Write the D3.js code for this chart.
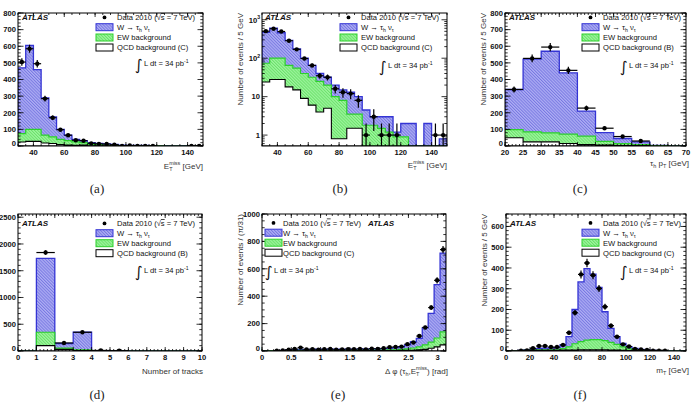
<!DOCTYPE html>
<html><head><meta charset="utf-8">
<script src="https://cdn.jsdelivr.net/npm/d3@7"></script>
<style>body{margin:0;background:#fff} svg{display:block}</style>
</head><body>
<svg id="c" width="698" height="405"></svg>
<script>
// ---------------- DATA ----------------
// (a),(b)  E_T^miss, 5 GeV bins from 30 to 150
const metLo   = [30,35,40,45,50,55,60,65,70,75,80,85,90,95,100,105,110,115,120,125,130,135,140,145];
const metW    = [396,505,360,225,120,60,33,15,12,10,7,9.5,6.5,2.7,1.2,1.5,1.8,0.3,1.1,2,0,2,0,0.8];
const metEW   = [50,72,72,47,40,31,26,21,15,9.2,7.2,2,2,1.8,1.8,1.5,1.2,0.9,0.9,0,0,0,0,0];
const metQCD  = [24,28,28,18,15,9,6,4,5,0.8,0.8,1.5,1.5,0,0,0,0,0,0,0,0,0,0,0];
const metData = [505,585,495,285,170,98,65,35,32,16,13,12,8,1,3,1,1,1,0,0,0,0,1,1];
// (c) tau pT
const ptLo   = [20,25,30,35,40,45,50,55,60,65];
const ptW    = [241,437,491,369,151,53,31,17,1,0];
const ptEW   = [49,60,54,56,51,23,11,6,2,0];
const ptQCD  = [50,25,25,15,8,5,3,2,0,0];
const ptData = [340,527,595,455,228,107,57,30,0,0];
// (d) number of tracks
const trkLo   = [0,1,2,3,4,5,6,7,8,9];
const trkW    = [0,1380,85,330,5,0,0,0,0,0];
const trkEW   = [0,250,25,12,0,0,0,0,0,0];
const trkQCD  = [0,100,30,10,0,0,0,0,0,0];
const trkData = [0,1840,150,350,10,5,0,0,0,0];
// (e) delta phi, 31 bins of pi/31
const dphiW    = [0,0,1,2,5,7,8,8,8,9,8,8,8,7,8,9,8,9,9,10,11,12,15,19,29,46,62,124,209,389,575];
const dphiEW   = [0,1,0,1,1,1,2,2,2,2,2,3,3,3,3,3,3,3,3,4,4,4,5,7,10,16,22,33,45,65,95];
const dphiQCD  = [0,0,1,1,2,2,2,2,2,2,2,2,2,2,2,2,3,3,3,3,3,4,4,5,5,6,8,12,20,30,45];
const dphiData = [0,0,2,4,10,15,25,12,14,10,13,15,10,12,14,13,15,12,17,15,20,28,30,32,50,62,109,172,317,516,740];
// (f) m_T, 5 GeV bins from 0 to 150
const mtLo   = [0,5,10,15,20,25,30,35,40,45,50,55,60,65,70,75,80,85,90,95,100,105,110,115,120,125,130,135,140,145];
const mtW    = [0,1,1,2,4,7,9,10,10,17,49,165,288,345,315,251,139,67,37,17,11,7,5,3,2,1,1,1,0,0];
const mtEW   = [0,0,1,1,2,2,2,2,3,8,15,30,39,46,49,49,44,37,28,17,8,4,2,1,0,1,0,0,0,0];
const mtQCD  = [1,1,1,2,2,3,3,3,3,4,5,5,6,6,6,6,6,5,4,3,2,2,1,1,1,0,0,0,0,0];
const mtData = [0,0,2,3,13,24,24,19,19,29,88,184,369,424,365,301,213,122,69,32,22,10,7,5,2,1,1,0,0,0];

// ---------------- DRAWING ----------------
const svg = d3.select('#c');
const defs = svg.append('defs');
const SANS = 'Liberation Sans, Arial, Helvetica, sans-serif';
function hatch(id,bg,fg){
  const p=defs.append('pattern').attr('id',id).attr('patternUnits','userSpaceOnUse')
    .attr('width',2.2).attr('height',2.2).attr('patternTransform','rotate(-45)');
  p.append('rect').attr('width',2.2).attr('height',2.2).attr('fill',bg);
  p.append('line').attr('x1',0.5).attr('y1',0).attr('x2',0.5).attr('y2',2.2).attr('stroke',fg).attr('stroke-width',0.9);
}
hatch('hb','#aeaef4','#7474e0');
hatch('hg','#9ef59e','#66e066');

function rich(sel, segs, fs){
  let cur=0;
  segs.forEach(s=>{
    const off = s.s==='sub'? fs*0.3 : s.s==='sup'? -fs*0.45 : 0;
    const t = sel.append('tspan').text(s.t).attr('dy', off-cur);
    if(s.s) t.attr('font-size', fs*0.68);
    if(s.dx) t.attr('dx', s.dx);
    if(s.o) t.style('text-decoration','overline');
    cur=off;
  });
}
const metSegs = fs => [{t:'E'},{t:'T',s:'sub'},{t:'miss',s:'sup',dx:-fs*0.42},{t:' [GeV]'}];

let clipId=0;
function panel(c){
  const g = svg.append('g');
  const x = d3.scaleLinear().domain(c.xd).range([c.L,c.R]);
  const y = (c.log? d3.scaleLog(): d3.scaleLinear()).domain(c.yd).range([c.B,c.T]);
  const ymin = c.yd[0];
  const yv = v => y(Math.max(v, ymin));
  const rows = c.lo.map((lo,i)=>({lo, hi: lo+c.bw, qcd:c.qcd[i], ew:c.ew[i], w:c.w[i]}));
  const st = d3.stack().keys(['qcd','ew','w'])(rows);
  const cid = 'clip'+(clipId++);
  defs.append('clipPath').attr('id',cid).append('rect')
    .attr('x',c.L).attr('y',c.T).attr('width',c.R-c.L).attr('height',c.B-c.T);
  const hg = g.append('g').attr('clip-path',`url(#${cid})`);
  const layers = [{k:2, fill:'url(#hb)', stroke:'#3434d4', sw:1.3},
                  {k:1, fill:'url(#hg)', stroke:'#2cd02c', sw:1.2},
                  {k:0, fill:'#ffffff', stroke:'#000000', sw:1.1}];
  const line = d3.line();
  layers.forEach(Ly=>{
    const tops = st[Ly.k].map(d=>d[1]);
    const pts = [[x(rows[0].lo), c.B]];
    rows.forEach((r,i)=>{ pts.push([x(r.lo), yv(tops[i])]); pts.push([x(r.hi), yv(tops[i])]); });
    pts.push([x(rows[rows.length-1].hi), c.B]);
    hg.append('path').attr('d', line(pts)+'Z').attr('fill',Ly.fill)
      .attr('stroke',Ly.stroke).attr('stroke-width',Ly.sw).attr('stroke-linejoin','miter');
  });
  // data points
  const dg = hg.append('g');
  rows.forEach((r,i)=>{
    const d = c.data[i]; if(!(d>0)) return;
    const e = Math.sqrt(d), xm = x((r.lo+r.hi)/2);
    dg.append('line').attr('x1',xm).attr('x2',xm).attr('y1',yv(d-e)).attr('y2',y(d+e)).attr('stroke','#000').attr('stroke-width',1.2);
    dg.append('line').attr('x1',x(r.lo)).attr('x2',x(r.hi)).attr('y1',y(d)).attr('y2',y(d)).attr('stroke','#000').attr('stroke-width',1.2);
    dg.append('circle').attr('cx',xm).attr('cy',y(d)).attr('r',2.2).attr('fill','#000');
  });
  // frame
  g.append('rect').attr('x',c.L).attr('y',c.T).attr('width',c.R-c.L).attr('height',c.B-c.T)
    .attr('fill','none').attr('stroke','#000').attr('stroke-width',1);
  const tk = g.append('g').attr('stroke','#000').attr('stroke-width',0.8);
  const inX = v => v>=c.xd[0]-1e-9 && v<=c.xd[1]+1e-9;
  c.xMinor.filter(inX).forEach(v=>{ const xx=x(v);
    tk.append('line').attr('x1',xx).attr('x2',xx).attr('y1',c.B).attr('y2',c.B-2);
    tk.append('line').attr('x1',xx).attr('x2',xx).attr('y1',c.T).attr('y2',c.T+2); });
  c.xMajor.forEach(v=>{ const xx=x(v);
    tk.append('line').attr('x1',xx).attr('x2',xx).attr('y1',c.B).attr('y2',c.B-4);
    tk.append('line').attr('x1',xx).attr('x2',xx).attr('y1',c.T).attr('y2',c.T+4); });
  const inY = v => v>=c.yd[0] && v<=c.yd[1];
  c.yMinor.filter(inY).forEach(v=>{ const yy=y(v);
    tk.append('line').attr('x1',c.L).attr('x2',c.L+2.7).attr('y1',yy).attr('y2',yy);
    tk.append('line').attr('x1',c.R).attr('x2',c.R-2.7).attr('y1',yy).attr('y2',yy); });
  c.yMajor.forEach(v=>{ const yy=y(v);
    tk.append('line').attr('x1',c.L).attr('x2',c.L+5.5).attr('y1',yy).attr('y2',yy);
    tk.append('line').attr('x1',c.R).attr('x2',c.R-5.5).attr('y1',yy).attr('y2',yy); });
  // tick labels
  const fsT = 7.6;
  c.xMajor.forEach((v,i)=>{
    g.append('text').attr('x',x(v)).attr('y',c.B+8.5).attr('text-anchor','middle')
      .attr('font-family',SANS).attr('font-size',fsT).attr('font-weight','bold').attr('fill','#111')
      .text(c.xLab[i]);
  });
  c.yMajor.forEach((v,i)=>{
    const yy = y(v) + (i===0 && !c.log ? 0.3 : 2.8);
    const t = g.append('text').attr('x',c.L-2).attr('y',yy).attr('text-anchor','end')
      .attr('font-family',SANS).attr('font-size',fsT).attr('font-weight','bold').attr('fill','#111');
    const lab = c.yLab[i];
    if(Array.isArray(lab)) rich(t,[{t:lab[0]},{t:lab[1],s:'sup'}],fsT); else t.text(lab);
  });
  // axis titles
  const fsA = 8;
  const xt = g.append('text').attr('x',c.R+c.xtDx).attr('y',c.xtY).attr('text-anchor','end')
    .attr('font-family',SANS).attr('font-size',fsA).attr('fill','#333');
  rich(xt, c.xTitle, fsA);
  if(c.yTitle){
    g.append('text').attr('transform',`translate(${c.L-19},${c.T}) rotate(-90)`).attr('text-anchor','end')
      .attr('font-family',SANS).attr('font-size',fsA).attr('fill','#333').text(c.yTitle);
  }
  // ATLAS
  g.append('text').attr('x',c.atlas[0]).attr('y',c.atlas[1]).attr('font-family',SANS)
    .attr('font-size',8).attr('font-weight','bold').attr('font-style','italic').attr('fill','#111').text('ATLAS');
  // legend
  const fsL = 7.6;
  const lg = g.append('g').attr('font-family',SANS).attr('font-size',fsL).attr('fill','#111');
  const bx = c.leg[0], tx = c.leg[1], rowsY = c.leg[2];
  lg.append('circle').attr('cx',bx+8.5).attr('cy',rowsY[0]-2.6).attr('r',1.9).attr('fill','#000');
  const t0 = lg.append('text').attr('x',tx).attr('y',rowsY[0]);
  rich(t0,[{t:'Data 2010 ('},{t:'√'},{t:'s',o:true},{t:' = 7 TeV)'}],fsL);
  const boxes = [['url(#hb)','#3434d4'],['url(#hg)','#2cd02c'],['#fff','#000']];
  boxes.forEach((b,i)=>{
    lg.append('rect').attr('x',bx).attr('y',rowsY[i+1]-6.3).attr('width',17).attr('height',7)
      .attr('fill',b[0]).attr('stroke',b[1]).attr('stroke-width',1);
  });
  const t1 = lg.append('text').attr('x',tx).attr('y',rowsY[1]);
  rich(t1,[{t:'W → τ'},{t:'h',s:'sub'},{t:' ν'},{t:'τ',s:'sub'}],fsL);
  lg.append('text').attr('x',tx).attr('y',rowsY[2]).text('EW background');
  lg.append('text').attr('x',tx).attr('y',rowsY[3]).text('QCD background ('+c.qcdTag+')');
  // luminosity
  g.append('text').attr('x',c.lumi[0]-1).attr('y',c.lumi[1]+4).attr('font-family','DejaVu Sans, sans-serif')
    .attr('font-size',15).attr('fill','#111').text('∫');
  const lt = g.append('text').attr('x',c.lumi[0]+8).attr('y',c.lumi[1]).attr('font-family',SANS)
    .attr('font-size',fsL).attr('fill','#111');
  rich(lt,[{t:'L dt = 34 pb'},{t:'-1',s:'sup'}],fsL);
  // caption
  svg.append('text').attr('x',c.cap[0]).attr('y',c.cap[1]).attr('text-anchor','middle')
    .attr('font-family','Liberation Serif, Times New Roman, serif').attr('font-size',13).attr('fill','#222').text(c.cap[2]);
}

const rangeStep = (a,b,s) => d3.range(Math.round((b-a)/s)+1).map(i=>+(a+i*s).toFixed(6));
const metXMajor = [40,60,80,100,120,140];
const logMinor = [0.6,0.7,0.8,0.9,2,3,4,5,6,7,8,9,20,30,40,50,60,70,80,90,200,300,400,500,600,700,800,900];

// (a)
panel({L:18,R:203,T:13,B:146, xd:[30,150], yd:[0,800], lo:metLo, bw:5, w:metW, ew:metEW, qcd:metQCD, data:metData,
  xMajor:metXMajor, xLab:metXMajor.map(String), xMinor:rangeStep(30,150,5),
  yMajor:rangeStep(0,800,100), yLab:rangeStep(0,800,100).map(String), yMinor:rangeStep(0,800,20),
  xTitle:metSegs(8), xtDx:0, xtY:169, yTitle:null, atlas:[22,19.5],
  leg:[96,117,[20,30,40.3,50.3]], qcdTag:'C', lumi:[136,66], cap:[97,193,'(a)']});
// (b)
panel({L:262,R:447,T:13,B:146, log:true, xd:[30,150], yd:[0.52,1500], lo:metLo, bw:5, w:metW, ew:metEW, qcd:metQCD, data:metData,
  xMajor:metXMajor, xLab:metXMajor.map(String), xMinor:rangeStep(30,150,5),
  yMajor:[1,10,100,1000], yLab:['1','10',['10','2'],['10','3']], yMinor:logMinor,
  xTitle:metSegs(8), xtDx:0, xtY:168, yTitle:'Number of events / 5 GeV', atlas:[265,19.5],
  leg:[340,361,[20,30,40.3,50.3]], qcdTag:'C', lumi:[380,68], cap:[340,193,'(b)']});
// (c)
panel({L:505,R:686,T:13,B:146, xd:[20,70], yd:[0,800], lo:ptLo, bw:5, w:ptW, ew:ptEW, qcd:ptQCD, data:ptData,
  xMajor:rangeStep(20,70,5), xLab:rangeStep(20,70,5).map(String), xMinor:rangeStep(20,70,1),
  yMajor:rangeStep(0,800,100), yLab:rangeStep(0,800,100).map(String), yMinor:rangeStep(0,800,20),
  xTitle:[{t:'τ'},{t:'h',s:'sub'},{t:' p'},{t:'T',s:'sub'},{t:' [GeV]'}], xtDx:3, xtY:166, yTitle:'Number of events / 5 GeV', atlas:[509,19.5],
  leg:[582,603,[20,30,40.3,50.3]], qcdTag:'B', lumi:[621,68], cap:[580,193,'(c)']});
// (d)
panel({L:18,R:202,T:214,B:351, xd:[0,10], yd:[0,2560], lo:trkLo, bw:1, w:trkW, ew:trkEW, qcd:trkQCD, data:trkData,
  xMajor:rangeStep(0,10,1), xLab:rangeStep(0,10,1).map(String), xMinor:rangeStep(0,10,0.2),
  yMajor:rangeStep(0,2500,500), yLab:rangeStep(0,2500,500).map(String), yMinor:rangeStep(0,2500,100),
  xTitle:[{t:'Number of tracks'}], xtDx:1, xtY:374, yTitle:null, atlas:[22,225.5],
  leg:[96,117,[226,236,246,256]], qcdTag:'B', lumi:[136,273], cap:[97,399,'(d)']});
// (e)
const dphiBw = Math.PI/31;
const dphiLo = d3.range(31).map(k=>k*dphiBw);
panel({L:262,R:446,T:214,B:351, xd:[0,Math.PI], yd:[0,1000], lo:dphiLo, bw:dphiBw, w:dphiW, ew:dphiEW, qcd:dphiQCD, data:dphiData,
  xMajor:rangeStep(0,3,0.5), xLab:['0','0.5','1','1.5','2','2.5','3'], xMinor:rangeStep(0,3.1,0.1),
  yMajor:rangeStep(0,1000,200), yLab:rangeStep(0,1000,200).map(String), yMinor:rangeStep(0,1000,50),
  xTitle:[{t:'Δ φ (τ'},{t:'h',s:'sub'},{t:',E'},{t:'T',s:'sub'},{t:'miss',s:'sup',dx:-3.4},{t:') [rad]'}], xtDx:2, xtY:374,
  yTitle:'Number of events / (π/31)', atlas:[368,225.5],
  leg:[265,283,[225.5,235.5,245.5,255.5]], qcdTag:'C', lumi:[266,273], cap:[338,399,'(e)']});
// (f)
panel({L:506,R:686,T:214,B:351, xd:[0,150], yd:[0,660], lo:mtLo, bw:5, w:mtW, ew:mtEW, qcd:mtQCD, data:mtData,
  xMajor:rangeStep(0,140,20), xLab:rangeStep(0,140,20).map(String), xMinor:rangeStep(0,150,5),
  yMajor:rangeStep(0,600,100), yLab:rangeStep(0,600,100).map(String), yMinor:rangeStep(0,660,20),
  xTitle:[{t:'m'},{t:'T',s:'sub'},{t:' [GeV]'}], xtDx:3, xtY:373, yTitle:'Number of events / 5 GeV', atlas:[510,225.5],
  leg:[582,603,[225.5,235.5,245.5,255.5]], qcdTag:'C', lumi:[621,273], cap:[580,399,'(f)']});
</script>
</body></html>
